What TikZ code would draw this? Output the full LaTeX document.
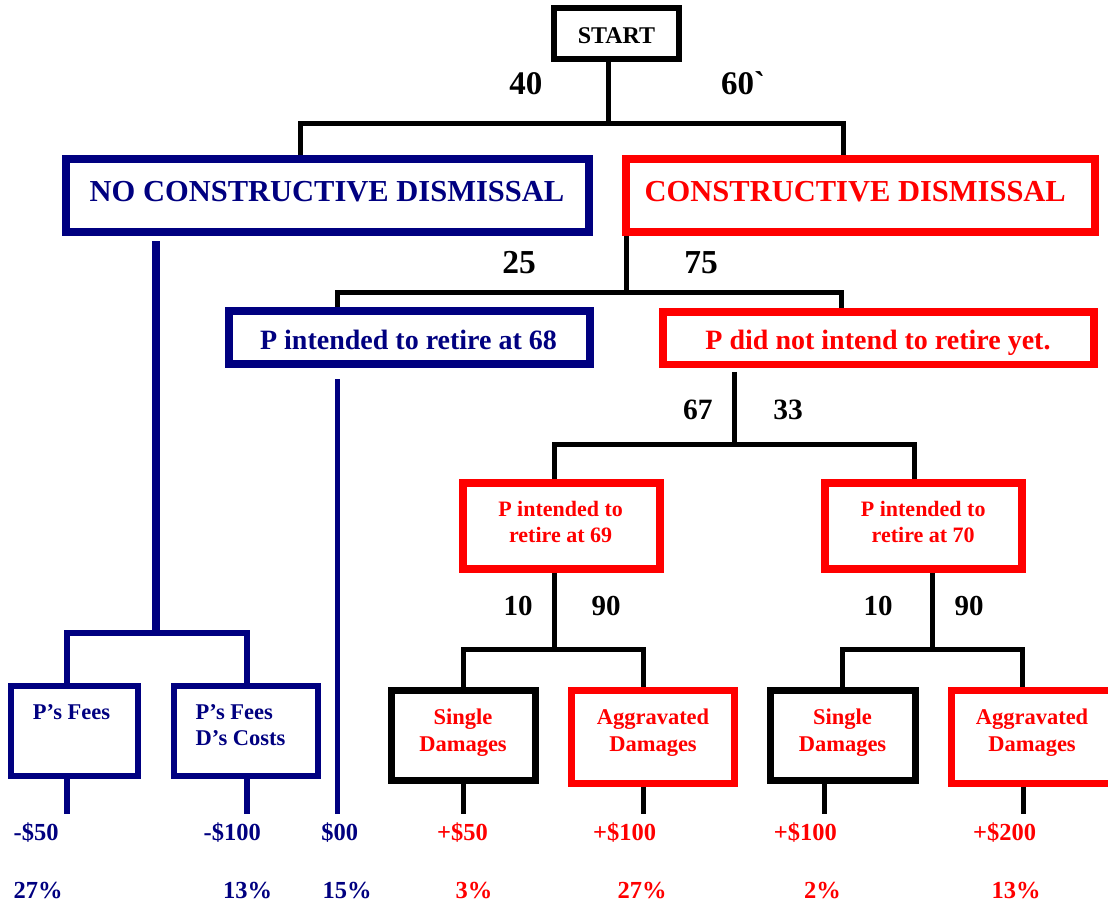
\documentclass[tikz,border=0pt]{standalone}
\usepackage{fontspec}
\setmainfont{Liberation Serif}
\newfontfamily\plainserif{Liberation Serif}[Ligatures=TeXOff]
\definecolor{navyblue}{RGB}{0,0,128}
\definecolor{brightred}{RGB}{255,0,0}
\tikzset{
  fs/.style={font=\fontsize{#1}{#1}\selectfont\bfseries},
  tx/.style={inner sep=0pt, outer sep=0pt, anchor=base},
  txl/.style={inner sep=0pt, outer sep=0pt, anchor=base west},
  nbox/.style={draw=navyblue, line width=#1, rectangle, inner sep=0pt},
  rbox/.style={draw=brightred, line width=#1, rectangle, inner sep=0pt},
  kbox/.style={draw=black, line width=#1, rectangle, inner sep=0pt},
  blk/.style={draw=black, line width=5pt},
  nvy/.style={draw=navyblue, line width=#1},
}
\begin{document}
\begin{tikzpicture}[x=1pt,y=-1pt]
\useasboundingbox (0,0) rectangle (1108,907);

% ---- decision boxes ----
\node[kbox=6pt, minimum width=125pt, minimum height=51pt] (start) at (616.5,33.5) {};
\node[tx, fs=24] (tstart) at (616.5,43.3) {START};

\node[nbox=8pt, minimum width=523pt, minimum height=73pt] (nocd) at (327.5,195.5) {};
\node[tx, fs=30.5, text=navyblue] (tnocd) at (327,201.7) {NO CONSTRUCTIVE DISMISSAL};

\node[rbox=8pt, minimum width=469pt, minimum height=72.5pt] (cd) at (860.5,195.3) {};
\node[tx, fs=30.5, text=brightred] (tcd) at (855.3,201.7) {CONSTRUCTIVE DISMISSAL};

\node[nbox=8pt, minimum width=361pt, minimum height=53pt] (p68) at (409,337.8) {};
\node[tx, fs=28, text=navyblue] (tp68) at (408.5,349) {P intended to retire at 68};

\node[rbox=7.5pt, minimum width=431pt, minimum height=52.8pt] (pnot) at (878.3,338.2) {};
\node[tx, fs=28, text=brightred] (tpnot) at (878,349) {P did not intend to retire yet.};

\node[rbox=8pt, minimum width=197.6pt, minimum height=85.7pt] (b69) at (561.4,525.9) {};
\node[tx, fs=22, text=brightred] (t69a) at (560.6,516.7) {P intended to};
\node[tx, fs=22, text=brightred] (t69b) at (560.6,542.7) {retire at 69};

\node[rbox=8pt, minimum width=197.6pt, minimum height=85.7pt] (b70) at (923.6,525.9) {};
\node[tx, fs=22, text=brightred] (t70a) at (923.2,516.7) {P intended to};
\node[tx, fs=22, text=brightred] (t70b) at (923.2,542.7) {retire at 70};

% ---- outcome boxes ----
\node[nbox=6pt, minimum width=126.4pt, minimum height=90.3pt] (pf) at (74.5,730.9) {};
\node[tx, fs=22.5, text=navyblue] (tpf) at (71.6,719.3) {P’s Fees};

\node[nbox=6pt, minimum width=144pt, minimum height=90.3pt] (pfdc) at (246.4,730.9) {};
\node[txl, fs=22.5, text=navyblue] (tpfdca) at (195.7,719.3) {P’s Fees};
\node[txl, fs=22.5, text=navyblue] (tpfdcb) at (195.7,745.7) {D’s Costs};

\node[kbox=7pt, minimum width=144.8pt, minimum height=90.6pt] (s1) at (463.4,735.5) {};
\node[tx, fs=22.5, text=brightred] (ts1a) at (463,724.3) {Single};
\node[tx, fs=22.5, text=brightred] (ts1b) at (463,751) {Damages};

\node[rbox=7pt, minimum width=162.9pt, minimum height=93pt] (a1) at (653.3,736.7) {};
\node[tx, fs=22.5, text=brightred] (ta1a) at (653,724.3) {Aggravated};
\node[tx, fs=22.5, text=brightred] (ta1b) at (653,751) {Damages};

\node[kbox=7pt, minimum width=144.4pt, minimum height=90.3pt] (s2) at (842.9,735.4) {};
\node[tx, fs=22.5, text=brightred] (ts2a) at (842.5,724.3) {Single};
\node[tx, fs=22.5, text=brightred] (ts2b) at (842.5,751) {Damages};

\node[rbox=7pt, minimum width=162.9pt, minimum height=93pt] (a2) at (1032.5,736.7) {};
\node[tx, fs=22.5, text=brightred] (ta2a) at (1032,724.3) {Aggravated};
\node[tx, fs=22.5, text=brightred] (ta2b) at (1032,751) {Damages};

% ---- branch probabilities ----
\node[tx, fs=33] (p40) at (525.8,94.3) {40};
\node[tx, fs=33] (p60) at (743,94.3) {60{\plainserif`}};
\node[tx, fs=33.5] (p25) at (519,273) {25};
\node[tx, fs=33.5] (p75) at (701,273) {75};
\node[tx, fs=29.5] (p67) at (697.8,419) {67};
\node[tx, fs=29.5] (p33) at (788,419) {33};
\node[tx, fs=29] (p10a) at (518,615) {10};
\node[tx, fs=29] (p90a) at (606,615) {90};
\node[tx, fs=29] (p10b) at (878,615) {10};
\node[tx, fs=29] (p90b) at (969,615) {90};

% ---- payoffs ----
\node[txl, fs=24.5, text=navyblue] (v1) at (13.6,840.7) {-\$50};
\node[txl, fs=24.5, text=navyblue] (v2) at (203.6,840.7) {-\$100};
\node[txl, fs=24.5, text=navyblue] (v3) at (321.4,840.7) {\$00};
\node[tx, fs=24.5, text=brightred] (v4) at (462.5,840.7) {+\$50};
\node[tx, fs=24.5, text=brightred] (v5) at (624.6,840.7) {+\$100};
\node[tx, fs=24.5, text=brightred] (v6) at (805.4,840.7) {+\$100};
\node[tx, fs=24.5, text=brightred] (v7) at (1004.7,840.7) {+\$200};

% ---- path probabilities ----
\node[txl, fs=24.5, text=navyblue] (q1) at (13.6,898) {27\%};
\node[txl, fs=24.5, text=navyblue] (q2) at (223,898) {13\%};
\node[txl, fs=24.5, text=navyblue] (q3) at (322.5,898) {15\%};
\node[tx, fs=24.5, text=brightred] (q4) at (474,898) {3\%};
\node[tx, fs=24.5, text=brightred] (q5) at (642,898) {27\%};
\node[tx, fs=24.5, text=brightred] (q6) at (822.6,898) {2\%};
\node[tx, fs=24.5, text=brightred] (q7) at (1016,898) {13\%};

% ---- fork points and drop columns ----
\coordinate (f1) at (608,123.5);
\coordinate (d1l) at (300,0);   \coordinate (d1r) at (843,0);
\coordinate (f2) at (626,292);
\coordinate (d2l) at (337.5,0); \coordinate (d2r) at (841.6,0);
\coordinate (f3) at (734,444);
\coordinate (d3l) at (554,0);   \coordinate (d3r) at (914.4,0);
\coordinate (f4) at (554,649);
\coordinate (d4l) at (463.4,0); \coordinate (d4r) at (643.7,0);
\coordinate (f5) at (932.7,649.5);
\coordinate (d5l) at (842.7,0); \coordinate (d5r) at (1022.8,0);
\coordinate (f6) at (156,632.5);
\coordinate (d6l) at (66.7,0);  \coordinate (d6r) at (246.5,0);

% ---- black connectors ----
\draw[blk] (start.south -| f1) -- (f1);
\draw[blk] (nocd.north -| d1l) |- (f1) -| (cd.north -| d1r);
\draw[blk] (cd.south -| f2) -- (f2);
\draw[blk] (p68.north -| d2l) |- (f2) -| (pnot.north -| d2r);
\draw[blk, shorten <=3.5pt] (pnot.south -| f3) -- (f3);
\draw[blk] (b69.north -| d3l) |- (f3) -| (b70.north -| d3r);
\draw[blk] (b69.south -| f4) -- (f4);
\draw[blk] (s1.north -| d4l) |- (f4) -| (a1.north -| d4r);
\draw[blk] (b70.south -| f5) -- (f5);
\draw[blk] (s2.north -| d5l) |- (f5) -| (a2.north -| d5r);

% ---- navy connectors ----
\draw[nvy=8pt, shorten <=5pt] (nocd.south -| f6) -- (f6);
\draw[nvy=6pt] (pf.north -| d6l) |- (f6) -| (pfdc.north -| d6r);

% ---- leaf stems ----
\coordinate (e68) at (337,814);
\coordinate (epf) at (66.7,814);
\coordinate (epfdc) at (246.5,814);
\coordinate (es1) at (463.4,814);
\coordinate (ea1) at (643.7,814);
\coordinate (es2) at (824.5,814);
\coordinate (ea2) at (1023,814);
\draw[nvy=5pt, shorten <=10.7pt] (p68.south -| e68) -- (e68);
\draw[nvy=6pt] (pf.south -| epf) -- (epf);
\draw[nvy=6pt] (pfdc.south -| epfdc) -- (epfdc);
\draw[blk] (s1.south -| es1) -- (es1);
\draw[blk] (a1.south -| ea1) -- (ea1);
\draw[blk] (s2.south -| es2) -- (es2);
\draw[blk] (a2.south -| ea2) -- (ea2);
\end{tikzpicture}
\end{document}
